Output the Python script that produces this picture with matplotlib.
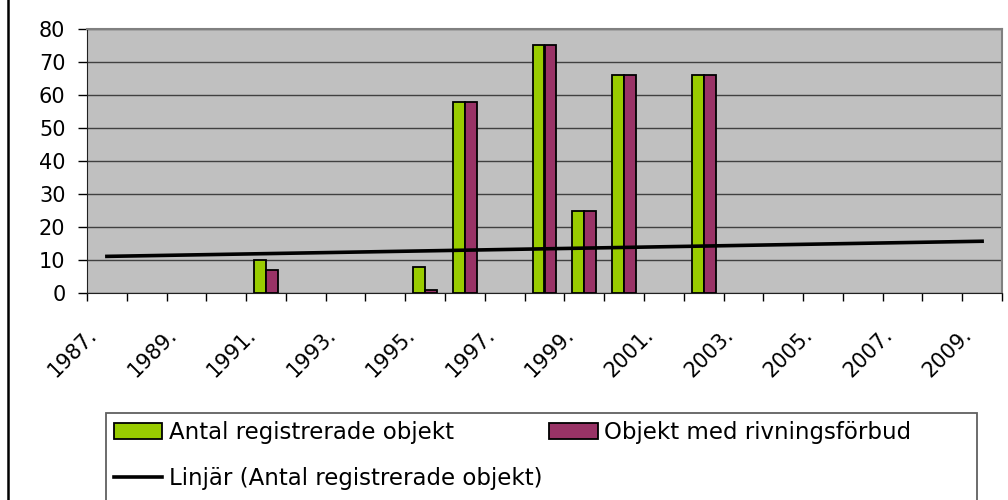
import numpy as np
import matplotlib
matplotlib.use('Agg')
import matplotlib.pyplot as plt
from matplotlib.lines import Line2D
from matplotlib.patches import Rectangle
from matplotlib.transforms import ScaledTranslation

plt.rcParams['font.family'] = ['DejaVu Sans']

years = list(range(1987, 2010))
antal = [0, 0, 0, 0, 10, 0, 0, 0, 8, 58, 0, 75, 25, 66, 0, 66, 0, 0, 0, 0, 0, 0, 0]
rivning = [0, 0, 0, 0, 7, 0, 0, 0, 1, 58, 0, 75, 25, 66, 0, 66, 0, 0, 0, 0, 0, 0, 0]
year_labels = [f'{y}.' for y in years[::2]]

green = '#99CC00'
purple = '#993366'

x = np.arange(len(years))
# empty years get no bar outline at all
antal_h = np.where(np.array(antal) > 0, antal, np.nan)
rivning_h = np.where(np.array(rivning) > 0, rivning, np.nan)

fig = plt.figure(figsize=(10.08, 5.0), dpi=100)
ax = fig.add_axes([87 / 1008, 1 - 293 / 500, 915 / 1008, 264 / 500])
ax.set_facecolor('#C0C0C0')

b1 = ax.bar(x - 0.15, antal_h, width=0.3, color=green, edgecolor='black', linewidth=1.3, zorder=3)
b2 = ax.bar(x + 0.15, rivning_h, width=0.3, color=purple, edgecolor='black', linewidth=1.3, zorder=3)

# linear trend of the registered objects
k, m = np.polyfit(x, antal, 1)
trend, = ax.plot(x, k * x + m, color='black', linewidth=2.6, zorder=4)

ax.set_xlim(-0.5, len(years) - 0.5)
ax.set_ylim(0, 80)
ax.set_yticks(range(0, 81, 10))
ax.yaxis.grid(True, color='#404040', linewidth=1.0, zorder=1)
ax.set_axisbelow(True)

for s in ['top', 'right']:
    ax.spines[s].set_color('#808080')
    ax.spines[s].set_linewidth(1.5)
ax.spines['left'].set_color('#202020')
ax.spines['bottom'].set_color('#202020')

ax.tick_params(axis='y', direction='out', length=6.5, width=1, pad=9, labelsize=15)

# tick marks on the category borders, year labels on every other category
ax.set_xticks(np.arange(len(years) + 1) - 0.5)
ax.set_xticklabels([])
ax.tick_params(axis='x', which='major', direction='out', length=6, width=1)
ax.set_xticks(x[::2], minor=True)
ax.set_xticklabels(year_labels, minor=True, rotation=45, ha='right', va='baseline',
                   rotation_mode='anchor', fontsize=15)
ax.tick_params(axis='x', which='minor', length=0, pad=31)
shift = ScaledTranslation(-0.09, 0, fig.dpi_scale_trans)
for lab in ax.get_xticklabels(minor=True):
    lab.set_transform(lab.get_transform() + shift)

# legend box at the bottom
fig.add_artist(Rectangle((106 / 1008, -0.02), (977 - 106) / 1008, 1.02 - 413 / 500,
                         transform=fig.transFigure, facecolor='white', edgecolor='#606060',
                         linewidth=1.3))
fig.legend([b1, trend, b2],
           ['Antal registrerade objekt', 'Linjär (Antal registrerade objekt)', 'Objekt med rivningsförbud'],
           ncol=2, loc='upper left', bbox_to_anchor=(114 / 1008, 1 - 421 / 500),
           frameon=False, fontsize=16.5, borderpad=0, borderaxespad=0,
           handlelength=2.1, handletextpad=0.3, columnspacing=0.3, labelspacing=1.0)

# left border of the chart area
fig.add_artist(Line2D([8 / 1008, 8 / 1008], [0, 1], transform=fig.transFigure,
                      color='black', linewidth=1.8))

fig.savefig('out.png', dpi=100)
